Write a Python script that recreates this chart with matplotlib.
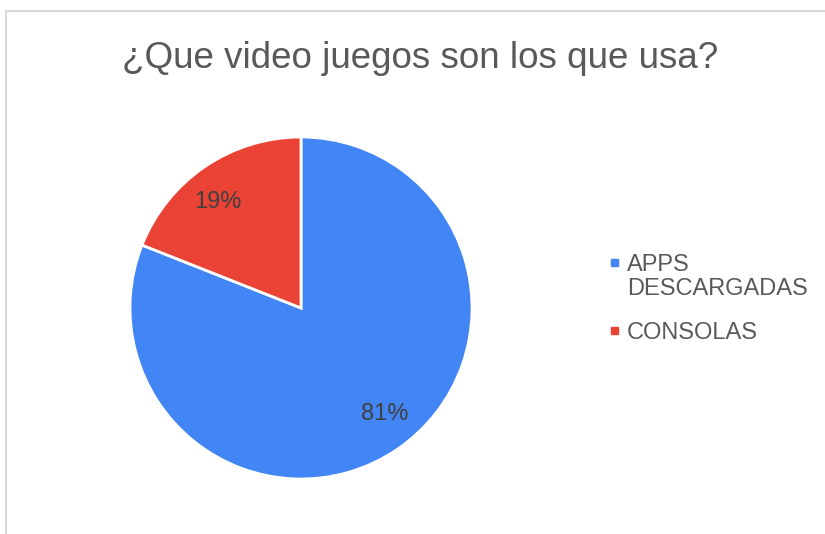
import matplotlib
matplotlib.use("Agg")
import numpy as np
import matplotlib.pyplot as plt
from matplotlib.lines import Line2D
from matplotlib.patches import Rectangle

# data
categories = ["APPS\nDESCARGADAS", "CONSOLAS"]
values = [81, 19]
colors = ["#4285F4", "#EA4335"]
title = "¿Que video juegos son los que usa?"

plt.rcParams["font.family"] = ["Liberation Sans", "DejaVu Sans"]

W, H = 825, 534
fig = plt.figure(figsize=(W / 100, H / 100), dpi=100)

# light frame on top and left
fig.add_artist(Line2D([6 / W, 6 / W], [0, 1 - 10.5 / H], color="#d9d9d9", lw=1.5))
fig.add_artist(Line2D([6 / W, 1], [1 - 10.5 / H, 1 - 10.5 / H], color="#d9d9d9", lw=1.5))

cx, cy, r = 301, 308, 171
ax = fig.add_axes([(cx - r) / W, (H - cy - r) / H, 2 * r / W, 2 * r / H])
wedges, texts, autotexts = ax.pie(
    values, colors=colors, startangle=90, counterclock=False,
    autopct="%1.0f%%", pctdistance=0.79,
    wedgeprops=dict(edgecolor="white", linewidth=2),
    textprops=dict(color="#404040", fontsize=17),
)
# the labels sit a little off the wedge bisector in the original
rot = np.deg2rad(4)
for t in autotexts:
    x, y = t.get_position()
    t.set_position((x * np.cos(rot) - y * np.sin(rot), x * np.sin(rot) + y * np.cos(rot)))
ax.set_xlim(-1, 1)
ax.set_ylim(-1, 1)
ax.set_aspect("equal")

fig.text(420 / W, 1 - 58 / H, title, ha="center", va="center", fontsize=26.5, color="#595959")

# legend drawn by hand so the marker sits on the first line of a wrapped label
legend_y = [262, 330]
sq = 7
for lab, c, ly in zip(categories, colors, legend_y):
    fig.add_artist(Rectangle(((614 - sq / 2) / W, (H - ly - sq / 2) / H), sq / W, sq / H,
                             transform=fig.transFigure, color=c))
    fig.text(627 / W, 1 - (ly - 8) / H, lab, ha="left", va="top", fontsize=17,
             color="#595959", linespacing=1.1)

fig.savefig("out.png", dpi=100)
